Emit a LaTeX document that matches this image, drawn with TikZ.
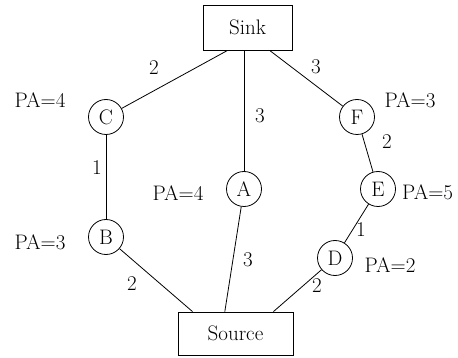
\documentclass[tikz,border=0pt]{standalone}
\usetikzlibrary{calc}

\begin{document}
\begin{tikzpicture}[x=1pt, y=-1pt,
  every node/.style={font=\fontsize{21}{25}\selectfont},
  sensor/.style={draw, circle, minimum size=35pt, inner sep=0pt, line width=0.8pt},
  endbox/.style={draw, rectangle, inner sep=0pt, line width=0.8pt},
  link/.style={line width=0.8pt}]

  \useasboundingbox (0,0) rectangle (458,358);

  % ---------- Sink and source ----------
  \node[endbox, minimum width=89pt, minimum height=45pt] (Sink) at (247.5,27.5) {Sink};
  \node[endbox, minimum width=115pt, minimum height=43pt] (Source) at (235.5,333.5) {Source};

  % ---------- Sensor nodes ----------
  \node[sensor] (C) at (106,117) {C};
  \node[sensor] (B) at (106,237) {B};
  \node[sensor] (A) at (244,189) {A};
  \node[sensor] (F) at (357,117) {F};
  \node[sensor] (E) at (378,189) {E};
  \node[sensor] (D) at (335,258) {D};

  % ---------- Links ----------
  \draw[link] (C) -- (Sink.229);
  \draw[link] (A) -- (A |- Sink.south);
  \draw[link] (F) -- (Sink.314);
  \draw[link] (C) -- (B);
  \draw[link] (F) -- (E);
  \draw[link] (E) -- (D);
  \draw[link] (B) -- (Source.153);
  \draw[link] (A) -- (Source.116);
  \draw[link] (D) -- (Source.30);

  % link costs
  \node (cSC) at (154,68) {2};
  \node (cSA) at (260,116) {3};
  \node (cSF) at (316,67) {3};
  \node (cFE) at (387,142) {2};
  \node (cCB) at (97,168) {1};
  \node (cED) at (361,230) {1};
  \node (cBS) at (132,284) {2};
  \node (cAS) at (248,260) {3};
  \node (cDS) at (317,286) {2};

  % ---------- PA values ----------
  \node (pC) at (40,100) {PA=4};
  \node (pF) at (410,100) {PA=3};
  \node (pA) at (178,193) {PA=4};
  \node (pB) at (40,242) {PA=3};
  \node[anchor=west, inner sep=0pt] (pE) at (402,192) {PA=5};
  \node (pD) at (390,265) {PA=2};

\end{tikzpicture}
\end{document}
